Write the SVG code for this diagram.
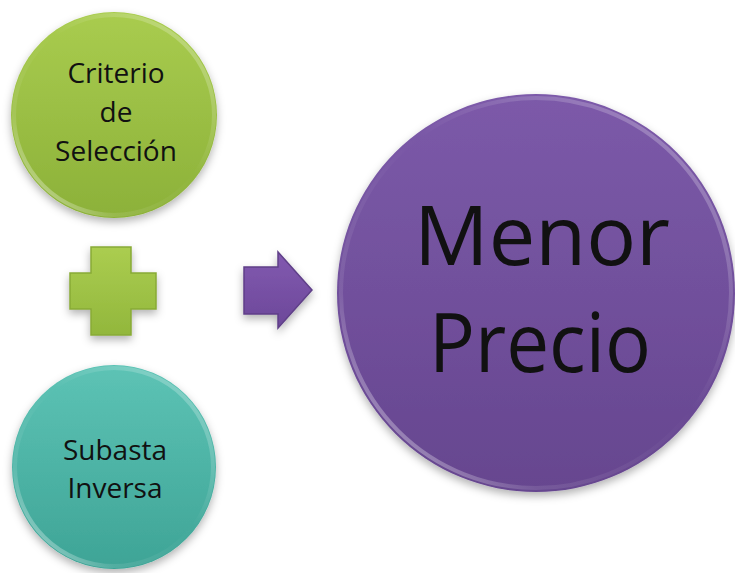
<svg xmlns="http://www.w3.org/2000/svg" width="735" height="573" viewBox="0 0 735 573">
<defs>
<style>
.lbl{font-family:"Open Sans","Liberation Sans",sans-serif;fill:#111;text-anchor:middle}
.sm{font-size:28px}
.big{font-size:83px}
.rim{fill:none;stroke:url(#rim);stroke-width:4}
</style>
<linearGradient id="gGreen" x1="0" y1="0" x2="0" y2="1">
<stop offset="0" stop-color="#a9cc4f"/><stop offset="1" stop-color="#8cb139"/>
</linearGradient>
<linearGradient id="gTeal" x1="0" y1="0" x2="0" y2="1">
<stop offset="0" stop-color="#5dc3b5"/><stop offset="1" stop-color="#3ea496"/>
</linearGradient>
<linearGradient id="gPurple" x1="0" y1="0" x2="0" y2="1">
<stop offset="0" stop-color="#7c5aa9"/><stop offset="1" stop-color="#66468f"/>
</linearGradient>
<linearGradient id="gPlus" x1="0" y1="0" x2="0" y2="1">
<stop offset="0" stop-color="#abcd50"/><stop offset="1" stop-color="#92b73c"/>
</linearGradient>
<linearGradient id="gArrow" x1="0" y1="0" x2="0" y2="1">
<stop offset="0" stop-color="#8259b0"/><stop offset="1" stop-color="#6c4899"/>
</linearGradient>
<linearGradient id="rim" x1="1" y1="0" x2="0" y2="1">
<stop offset="0" stop-color="#fff" stop-opacity="0.35"/><stop offset="0.45" stop-color="#fff" stop-opacity="0"/><stop offset="0.75" stop-color="#fff" stop-opacity="0.1"/><stop offset="1" stop-color="#fff" stop-opacity="0.6"/>
</linearGradient>
<filter id="sh" x="-20%" y="-20%" width="140%" height="140%">
<feDropShadow dx="0" dy="4" stdDeviation="4" flood-color="#000" flood-opacity="0.3"/>
</filter>
</defs>
<rect width="735" height="573" fill="#fff"/>
<g id="connectors">
<g id="plus">
<polygon points="91,247 131,247 131,273 156,273 156,309 131,309 131,335 91,335 91,309 70,309 70,273 91,273" fill="url(#gPlus)" stroke="#88ab36" stroke-width="1.5" filter="url(#sh)"/>
</g>
<g id="arrow">
<polygon points="244,267 278,267 278,252 312,290 278,328 278,314 244,314" fill="url(#gArrow)" stroke="#5f3f88" stroke-width="1.5" filter="url(#sh)"/>
</g>
</g>
<g id="criterio">
<circle cx="114" cy="115" r="103" fill="url(#gGreen)" filter="url(#sh)"/>
<circle class="rim" cx="114" cy="115" r="100"/>
<text class="lbl sm" x="116" y="83">Criterio</text>
<text class="lbl sm" x="116" y="122">de</text>
<text class="lbl sm" x="116" y="161">Selección</text>
</g>
<g id="subasta">
<circle cx="114" cy="467" r="102" fill="url(#gTeal)" filter="url(#sh)"/>
<circle class="rim" cx="114" cy="467" r="99"/>
<text class="lbl sm" x="115" y="460">Subasta</text>
<text class="lbl sm" x="115" y="498">Inversa</text>
</g>
<g id="menor">
<circle cx="536" cy="293" r="199" fill="url(#gPurple)" filter="url(#sh)"/>
<circle class="rim" cx="536" cy="293" r="195" stroke-width="5"/>
<text class="lbl big" x="542" y="265">Menor</text>
<text class="lbl big" x="540" y="372" textLength="222" lengthAdjust="spacingAndGlyphs">Precio</text>
</g>
</svg>
